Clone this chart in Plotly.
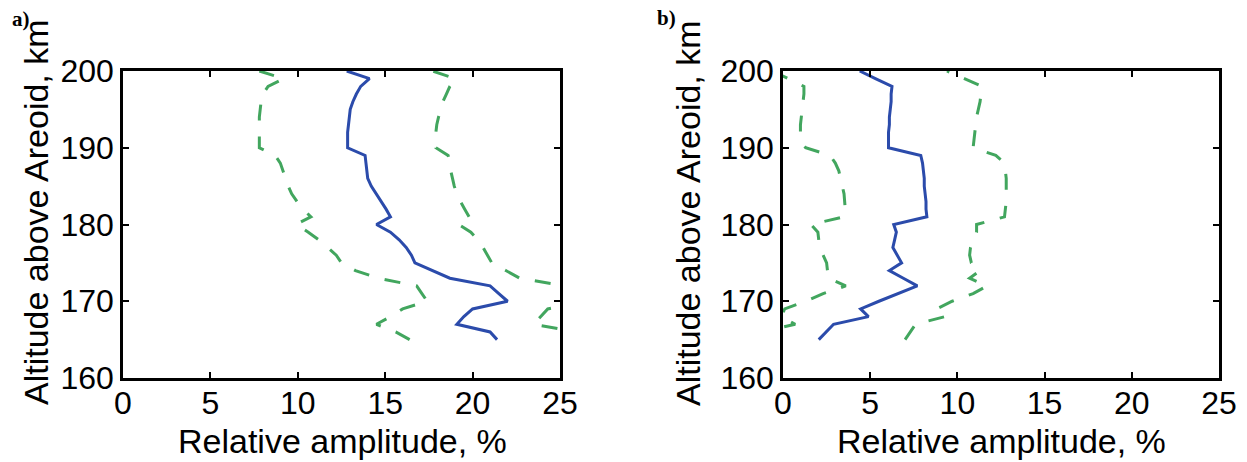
import plotly.graph_objects as go

# Altitude grid (km) and relative-amplitude profiles (%)
altitude = list(range(165, 201))

a_mean = [21.4, 21.0, 19.1, 19.5, 20.0, 22.0, 21.5, 21.0, 18.7, 17.7, 16.7, 16.5,
          16.2, 15.8, 15.3, 14.5, 15.3, 15.05, 14.75, 14.45, 14.2, 14.0, 13.93, 13.9,
          13.85, 12.85, 12.85, 12.85, 12.9, 12.95, 13.0, 13.15, 13.35, 13.6, 14.1, 12.8]
a_low = [16.4, 15.6, 14.5, 15.3, 16.0, 17.4, 17.1, 16.8, 14.6, 13.3, 12.5, 12.2,
         11.7, 11.2, 10.6, 9.9, 10.75, 10.3, 9.95, 9.65, 9.45, 9.3, 9.15, 9.0,
         8.7, 7.8, 7.8, 7.8, 7.8, 7.8, 7.85, 7.9, 8.0, 8.3, 9.2, 7.8]
a_up = [26.5, 26.0, 23.5, 23.9, 24.3, 26.6, 25.9, 25.3, 22.7, 21.9, 21.1, 20.85,
        20.6, 20.3, 19.9, 19.2, 19.8, 19.55, 19.3, 19.1, 18.95, 18.85, 18.75, 18.7,
        18.6, 17.9, 17.9, 17.9, 17.95, 18.05, 18.2, 18.3, 18.5, 18.7, 19.0, 17.7]

b_mean = [2.05, 2.5, 2.9, 4.9, 4.45, 5.5, 6.6, 7.7, 6.9, 6.1, 6.8, 6.55,
          6.3, 6.4, 6.5, 6.35, 8.25, 8.2, 8.2, 8.15, 8.1, 8.1, 8.05, 8.0,
          7.9, 6.05, 6.05, 6.05, 6.1, 6.1, 6.15, 6.2, 6.2, 6.25, 5.3, 4.4]
b_low = [-1.5, -1.2, 0.7, -0.1, 0.1, 1.3, 2.3, 3.6, 2.6, 2.55, 2.5, 2.3,
         2.1, 2.05, 2.0, 1.6, 3.5, 3.57, 3.55, 3.5, 3.4, 3.3, 3.2, 3.0,
         2.7, 1.3, 1.0, 1.0, 1.0, 1.05, 1.1, 1.15, 1.2, 1.2, 0.3, -0.6]
b_up = [7.0, 7.3, 7.6, 9.3, 8.8, 9.7, 10.9, 11.7, 10.7, 11.3, 10.8, 10.7,
        10.75, 10.9, 11.1, 11.1, 12.7, 12.75, 12.8, 12.8, 12.8, 12.8, 12.75, 12.7,
        12.2, 10.9, 10.95, 11.0, 11.05, 11.1, 11.2, 11.3, 11.35, 11.4, 10.4, 9.4]

x_ticks = [0, 5, 10, 15, 20, 25]
y_ticks = [160, 170, 180, 190, 200]

W, H = 1247, 462
BLUE = "#2b4bab"
GREEN = "#42a65e"
FONT = "Liberation Sans, Arial, Helvetica, sans-serif"


def fx(px):
    return px / W


def fy(py):
    return 1 - py / H


fig = go.Figure()

panels = [
    ("x", "y", a_mean, a_low, a_up),
    ("x2", "y2", b_mean, b_low, b_up),
]
for xa, ya, mean, low, up in panels:
    for band in (low, up):
        fig.add_trace(go.Scatter(
            x=band, y=altitude, xaxis=xa, yaxis=ya, mode="lines",
            line=dict(color=GREEN, width=3, dash="16px,16px"),
            showlegend=False, hoverinfo="skip"))
    fig.add_trace(go.Scatter(
        x=mean, y=altitude, xaxis=xa, yaxis=ya, mode="lines",
        line=dict(color=BLUE, width=3),
        showlegend=False, hoverinfo="skip"))

axis_style = dict(
    showline=True, linecolor="black", linewidth=2.5, mirror="allticks",
    ticks="inside", ticklen=6, tickwidth=2, tickcolor="black",
    showgrid=False, zeroline=False, automargin=False,
    tickfont=dict(family=FONT, size=32, color="black"),
)

y0, y1 = fy(378), fy(71)
fig.update_layout(
    width=W, height=H,
    margin=dict(l=0, r=0, t=0, b=0),
    paper_bgcolor="white", plot_bgcolor="white",
    xaxis=dict(domain=[fx(123), fx(560)], range=[0, 25], tickvals=x_ticks,
               anchor="y", ticklabelstandoff=-5, **axis_style),
    yaxis=dict(domain=[y0, y1], range=[160, 200], tickvals=y_ticks,
               anchor="x", **axis_style),
    xaxis2=dict(domain=[fx(783), fx(1219)], range=[0, 25], tickvals=x_ticks,
                anchor="y2", ticklabelstandoff=-5, **axis_style),
    yaxis2=dict(domain=[y0, y1], range=[160, 200], tickvals=y_ticks,
                anchor="x2", **axis_style),
)

title_font = dict(family=FONT, size=34, color="black")
label_font = dict(family="Liberation Serif, Times New Roman, serif", size=21, color="black")

annotations = [
    dict(text="Relative amplitude, %", x=fx(342), y=fy(441), font=title_font),
    dict(text="Relative amplitude, %", x=fx(1001), y=fy(441), font=title_font),
    dict(text="Altitude above Areoid, km", x=fx(36), y=fy(212), textangle=-90, font=title_font),
    dict(text="Altitude above Areoid, km", x=fx(688), y=fy(213), textangle=-90, font=title_font),
    dict(text="<b>a)</b>", x=fx(21), y=fy(19), font=label_font),
    dict(text="<b>b)</b>", x=fx(667), y=fy(18), font=label_font),
]
for a in annotations:
    fig.add_annotation(xref="paper", yref="paper", showarrow=False,
                       xanchor="center", yanchor="middle", **a)

fig.write_html("out.html")
